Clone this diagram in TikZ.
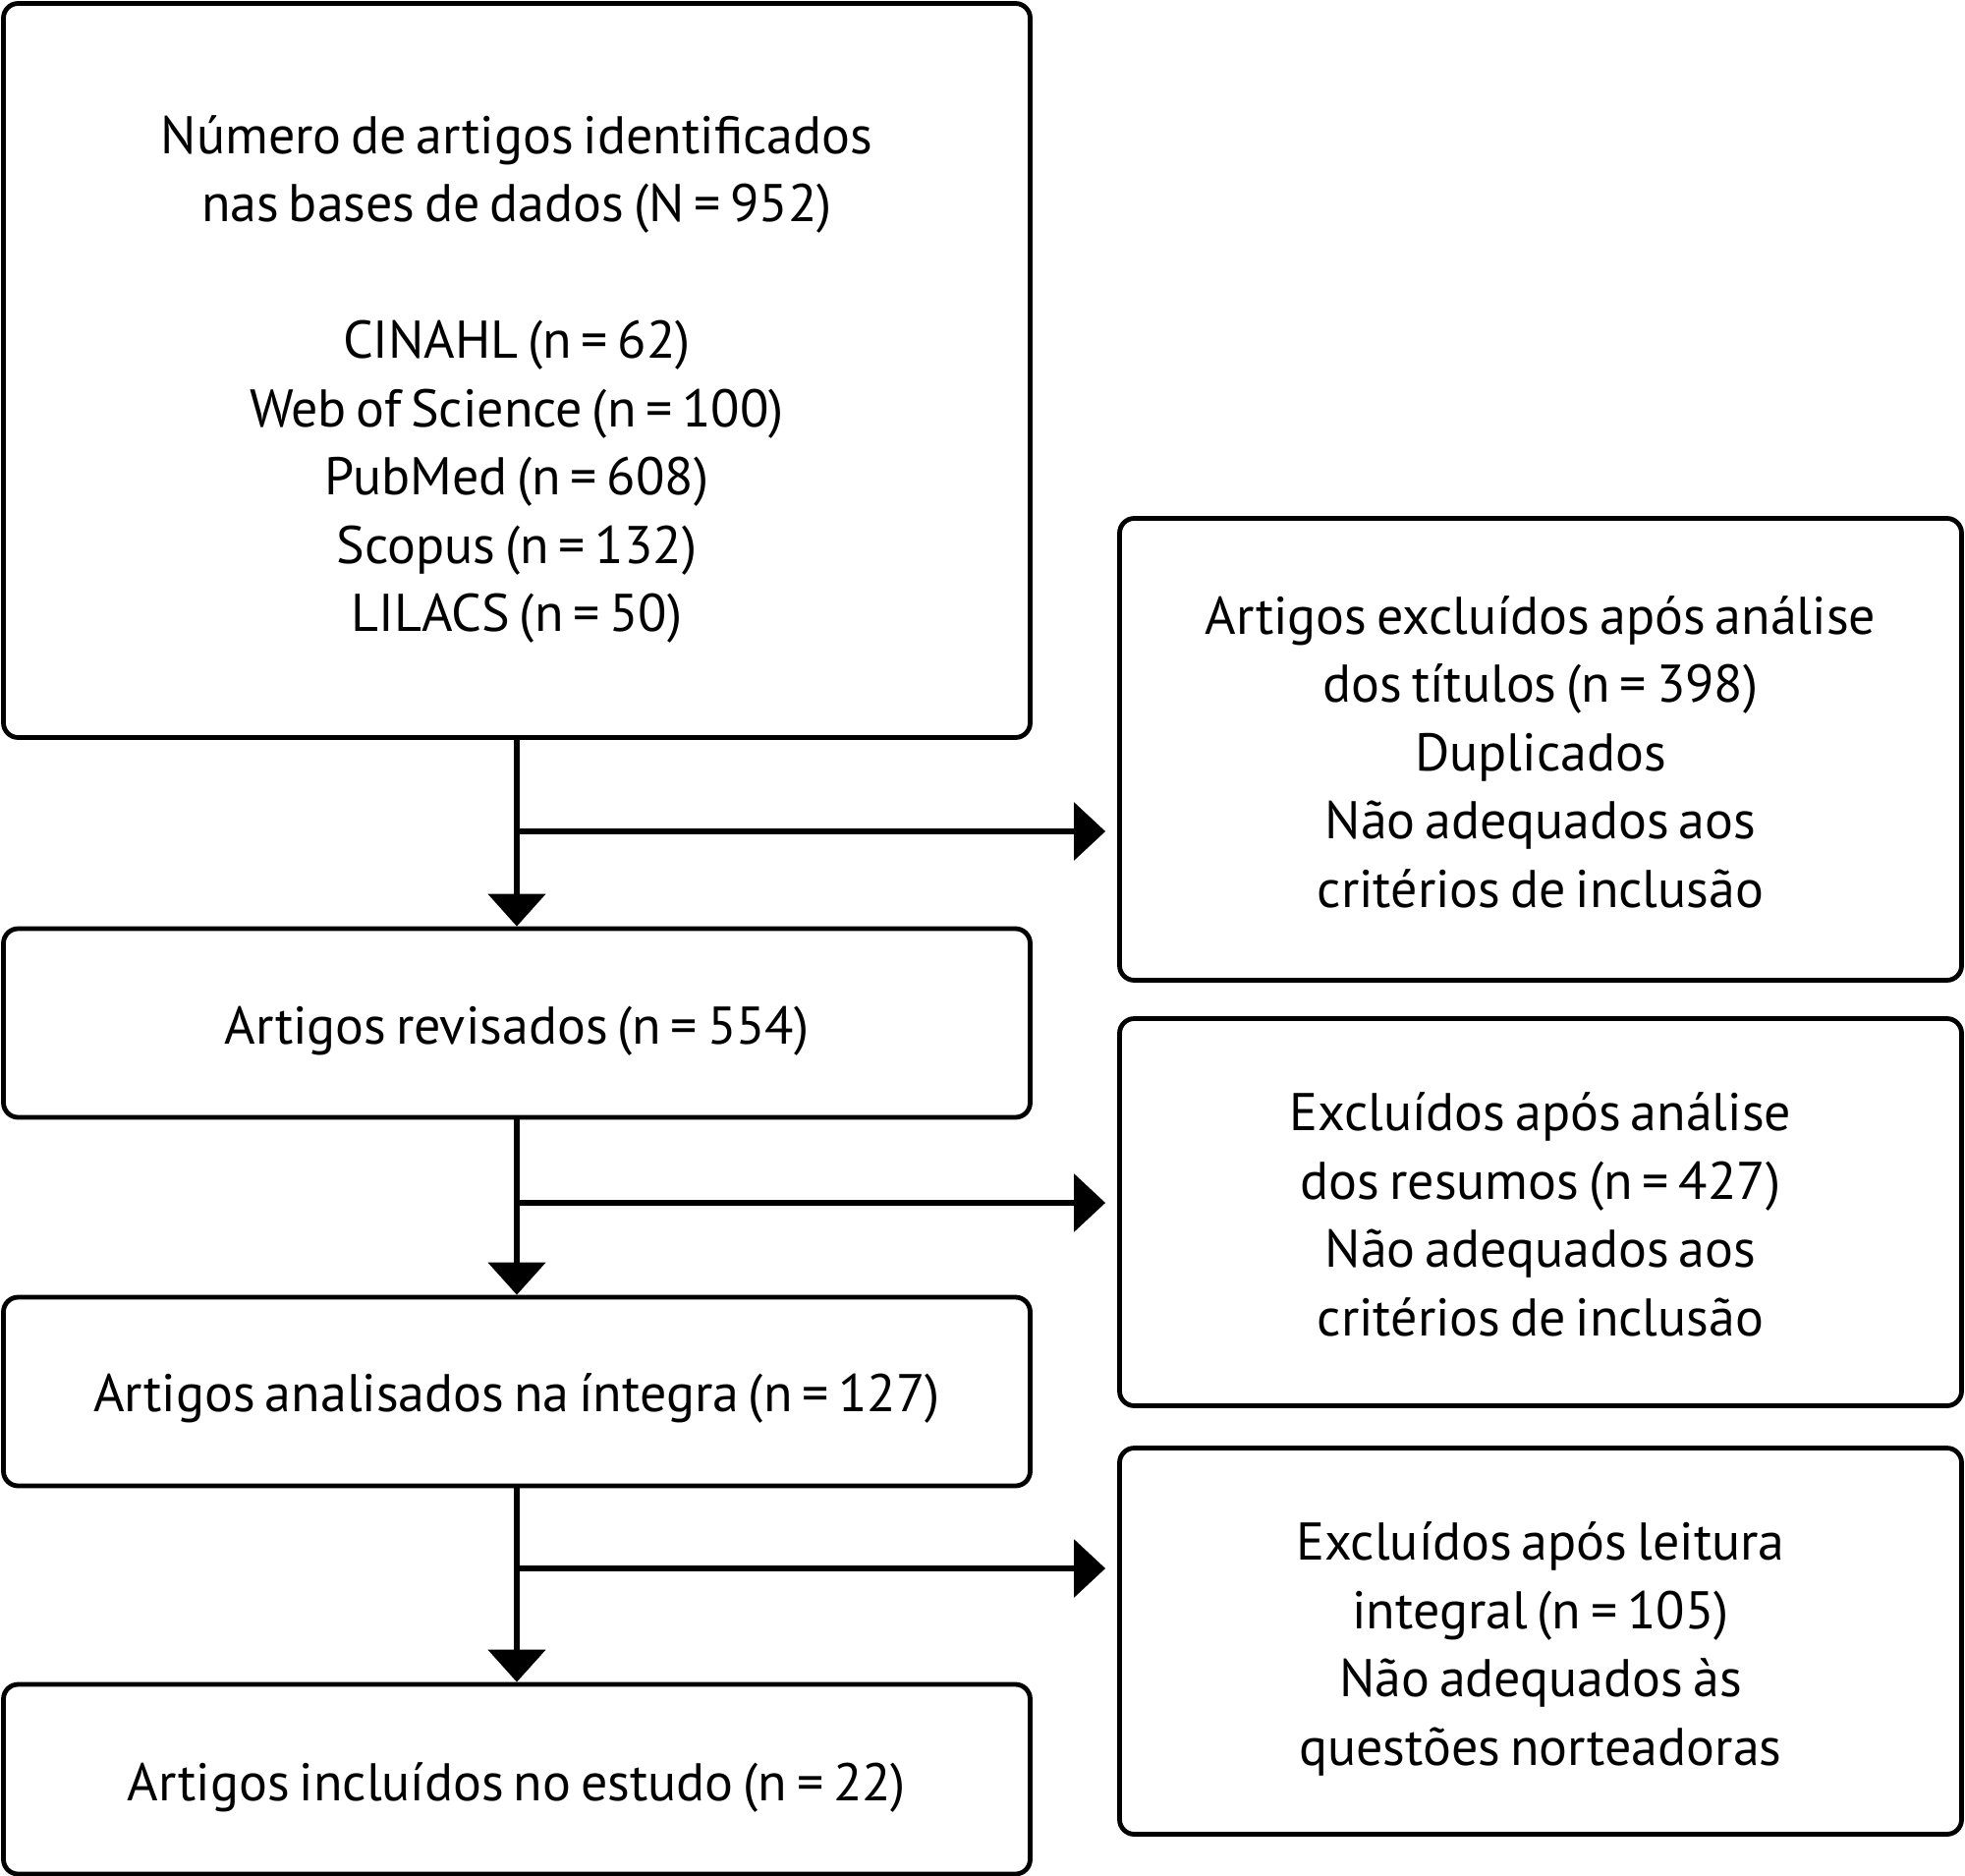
\documentclass[tikz,border=0pt]{standalone}
\usepackage{fontspec}
\setmainfont{PT Sans}[WordSpace=0.68]
\usetikzlibrary{arrows.meta}
\tikzset{
  box/.style={draw, line width=2.4pt, rounded corners=7.5pt, inner sep=0pt},
  txt/.style={align=center, inner sep=0pt, font=\fontsize{27}{34.75}\selectfont},
  vline/.style={line width=2.6pt, -{Triangle[length=16.5pt,width=29pt]}},
  hline/.style={line width=3.2pt, -{Triangle[length=16pt,width=29pt]}, shorten >=6pt},
}
\begin{document}
\begin{tikzpicture}[x=0.5pt,y=-0.5pt]
\useasboundingbox[fill=white] (0,0) rectangle (2000,1909);
\node[box, minimum width=522.5pt, minimum height=373.5pt] (b1) at (526,377) {};
\node[box, minimum width=522.5pt, minimum height=96pt] (b2) at (526,1041) {};
\node[box, minimum width=522.5pt, minimum height=96pt] (b3) at (526,1416) {};
\node[box, minimum width=522.5pt, minimum height=96.5pt] (b4) at (526,1810.5) {};
\node[box, minimum width=428.5pt, minimum height=235pt] (r1) at (1568,762.5) {};
\node[box, minimum width=428.5pt, minimum height=197pt] (r2) at (1568,1233.5) {};
\node[box, minimum width=428.5pt, minimum height=196.5pt] (r3) at (1568,1670) {};
\node[txt] (t1) at (526,386)
 {Número de artigos identificados\\nas bases de dados (N = 952)\\[34.75pt]CINAHL (n = 62)\\Web of Science (n = 100)\\PubMed (n = 608)\\Scopus (n = 132)\\LILACS (n = 50)};
\node[txt] (t2) at (526,1049.5) {Artigos revisados (n = 554)};
\node[txt] (t3) at (526,1423) {Artigos analisados na íntegra (n = 127)};
\node[txt] (t4) at (526,1819) {Artigos incluídos no estudo (n = 22)};
\node[txt] (s1) at (1568,765)
 {Artigos excluídos após análise\\dos títulos (n = 398)\\Duplicados\\Não adequados aos\\critérios de inclusão};
\node[txt] (s2) at (1568,1236)
 {Excluídos após análise\\dos resumos (n = 427)\\Não adequados aos\\critérios de inclusão};
\node[txt] (s3) at (1568,1678)
 {Excluídos após leitura\\integral (n = 105)\\Não adequados às\\questões norteadoras};
\coordinate (j1) at (526,846);
\coordinate (j2) at (526,1224);
\coordinate (j3) at (526,1596);
\draw[vline] (b1.south) -- (b2.north);
\draw[vline] (b2.south) -- (b3.north);
\draw[vline] (b3.south) -- (b4.north);
\draw[hline] (j1) -- (j1 -| r1.west);
\draw[hline] (j2) -- (j2 -| r2.west);
\draw[hline] (j3) -- (j3 -| r3.west);
\end{tikzpicture}
\end{document}
